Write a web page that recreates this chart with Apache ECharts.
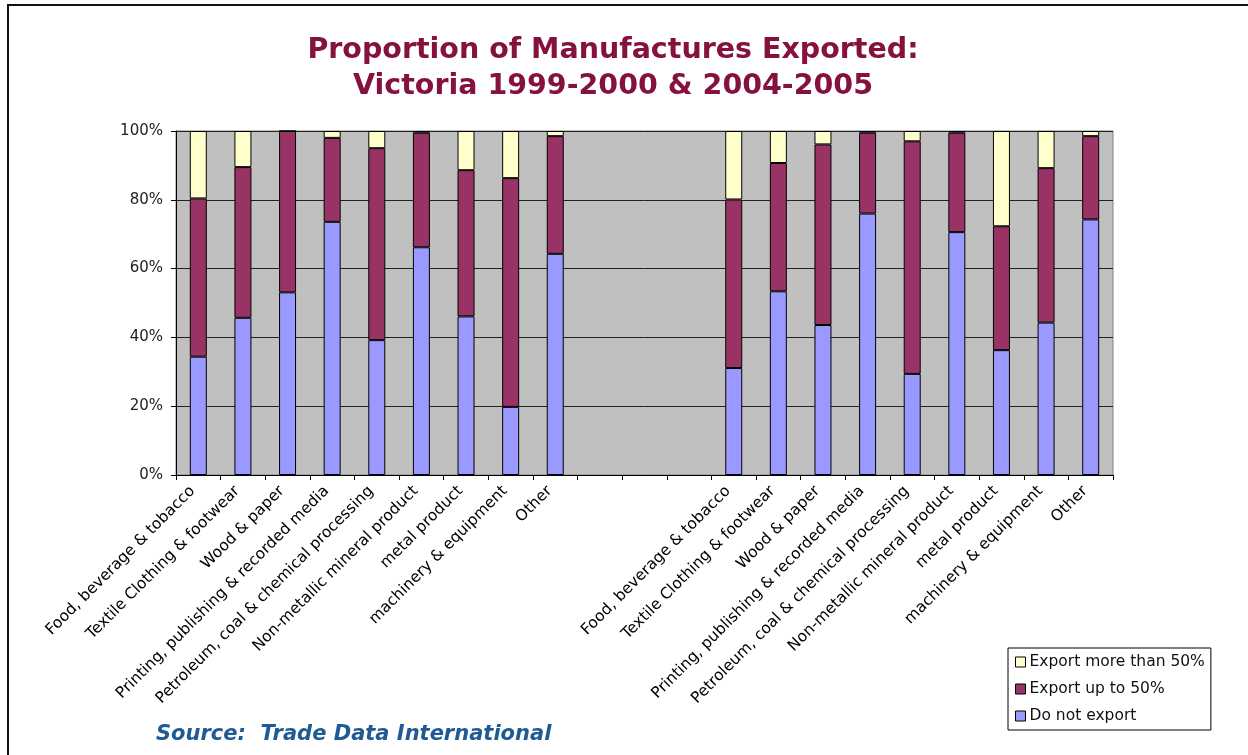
<!DOCTYPE html>
<html>
<head>
<meta charset="utf-8">
<title>Proportion of Manufactures Exported</title>
<script src="https://cdn.jsdelivr.net/npm/echarts@6/dist/echarts.min.js"></script>
<style>
  html, body { margin: 0; padding: 0; background: #fff; }
  #chart { width: 1248px; height: 755px; }
</style>
</head>
<body>
<div id="chart"></div>
<script>
// Industry groups, shown once per period
const industries = [
  'Food, beverage & tobacco',
  'Textile Clothing & footwear',
  'Wood & paper',
  'Printing, publishing & recorded media',
  'Petroleum, coal & chemical processing',
  'Non-metallic mineral product',
  'metal product',
  'machinery & equipment',
  'Other'
];

// 1999-2000 shares (%)
const doNotExport1999 = [34.4, 45.7, 53.1, 73.6, 39.2, 66.2, 46.1, 19.8, 64.3];
const upTo50_1999     = [46.0, 43.8, 46.9, 24.4, 55.8, 33.3, 42.5, 66.5, 34.2];
const over50_1999     = [19.6, 10.5, 0.0, 2.0, 5.0, 0.5, 11.4, 13.7, 1.5];

// 2004-2005 shares (%)
const doNotExport2004 = [31.1, 53.4, 43.6, 76.0, 29.4, 70.6, 36.3, 44.3, 74.3];
const upTo50_2004     = [49.0, 37.3, 52.5, 23.5, 67.6, 28.9, 36.0, 44.9, 24.2];
const over50_2004     = [19.9, 9.3, 3.9, 0.5, 3.0, 0.5, 27.7, 10.8, 1.5];

// Empty slots separating the two periods
const gapSlots = 3;

const yTicks = [0, 20, 40, 60, 80, 100];

const gapLabels = new Array(gapSlots).fill('');
const gapValues = new Array(gapSlots).fill(null);
const categories = industries.concat(gapLabels, industries);
const join = (a, b) => a.concat(gapValues, b);

const seriesDefs = [
  { name: 'Do not export', color: '#9999FF', data: join(doNotExport1999, doNotExport2004) },
  { name: 'Export up to 50%', color: '#993366', data: join(upTo50_1999, upTo50_2004) },
  { name: 'Export more than 50%', color: '#FFFFCC', data: join(over50_1999, over50_2004) }
];

const chart = echarts.init(document.getElementById('chart'), null, { renderer: 'canvas' });

chart.setOption({
  animation: false,
  backgroundColor: '#ffffff',
  graphic: [
    {
      type: 'rect',
      silent: true,
      shape: { x: 8, y: 5, width: 1300, height: 800 },
      style: { fill: 'none', stroke: '#111', lineWidth: 2 }
    },
    {
      type: 'text',
      silent: true,
      style: {
        text: 'Proportion of Manufactures Exported:\nVictoria 1999-2000 & 2004-2005',
        x: 613, y: 69,
        align: 'center', verticalAlign: 'middle',
        font: 'bold 28.5px "DejaVu Sans"',
        lineHeight: 36,
        fill: '#85113F'
      }
    },
    {
      type: 'text',
      silent: true,
      style: {
        text: 'Source:  Trade Data International',
        x: 156, y: 735,
        align: 'left', verticalAlign: 'middle',
        font: 'italic bold 21px "DejaVu Sans"',
        fill: '#1F5A94'
      }
    }
  ],
  legend: {
    orient: 'vertical',
    left: 1008,
    top: 648,
    padding: [6, 6, 6, 7],
    itemGap: 11,
    itemWidth: 10,
    itemHeight: 10,
    icon: 'rect',
    borderColor: '#000',
    borderWidth: 1,
    backgroundColor: '#fff',
    itemStyle: { borderColor: '#000', borderWidth: 1 },
    textStyle: { fontFamily: '"DejaVu Sans"', fontSize: 15.5, color: '#111', padding: [0, 0, 0, -1] },
    data: ['Export more than 50%', 'Export up to 50%', 'Do not export']
  },
  grid: {
    left: 176, right: 135, top: 131, bottom: 280,
    show: true,
    backgroundColor: '#C0C0C0',
    borderColor: '#808080',
    borderWidth: 1,
    containLabel: false
  },
  xAxis: {
    type: 'category',
    data: categories,
    boundaryGap: true,
    axisLine: { lineStyle: { color: '#000', width: 1 } },
    axisTick: { show: true, interval: 0, length: 5, lineStyle: { color: '#000' } },
    axisLabel: {
      interval: 0,
      rotate: 45,
      margin: 8,
      padding: [0, 8, 0, 0],
      fontFamily: '"DejaVu Sans"',
      fontSize: 15.5,
      color: '#000'
    },
    splitLine: { show: false }
  },
  yAxis: {
    type: 'value',
    min: yTicks[0],
    max: yTicks[yTicks.length - 1],
    interval: yTicks[1] - yTicks[0],
    axisLine: { show: true, lineStyle: { color: '#000', width: 1 } },
    axisTick: { show: true, length: 5, lineStyle: { color: '#000' } },
    axisLabel: {
      formatter: '{value}%',
      margin: 13,
      fontFamily: '"DejaVu Sans"',
      fontSize: 15,
      color: '#222'
    },
    splitLine: { show: true, lineStyle: { color: '#222', width: 1 } }
  },
  series: seriesDefs.map(s => ({
    name: s.name,
    type: 'bar',
    stack: 'share',
    barWidth: 17,
    data: s.data,
    itemStyle: { color: s.color, borderColor: '#000', borderWidth: 1 },
    emphasis: { disabled: true }
  }))
});
</script>
</body>
</html>
